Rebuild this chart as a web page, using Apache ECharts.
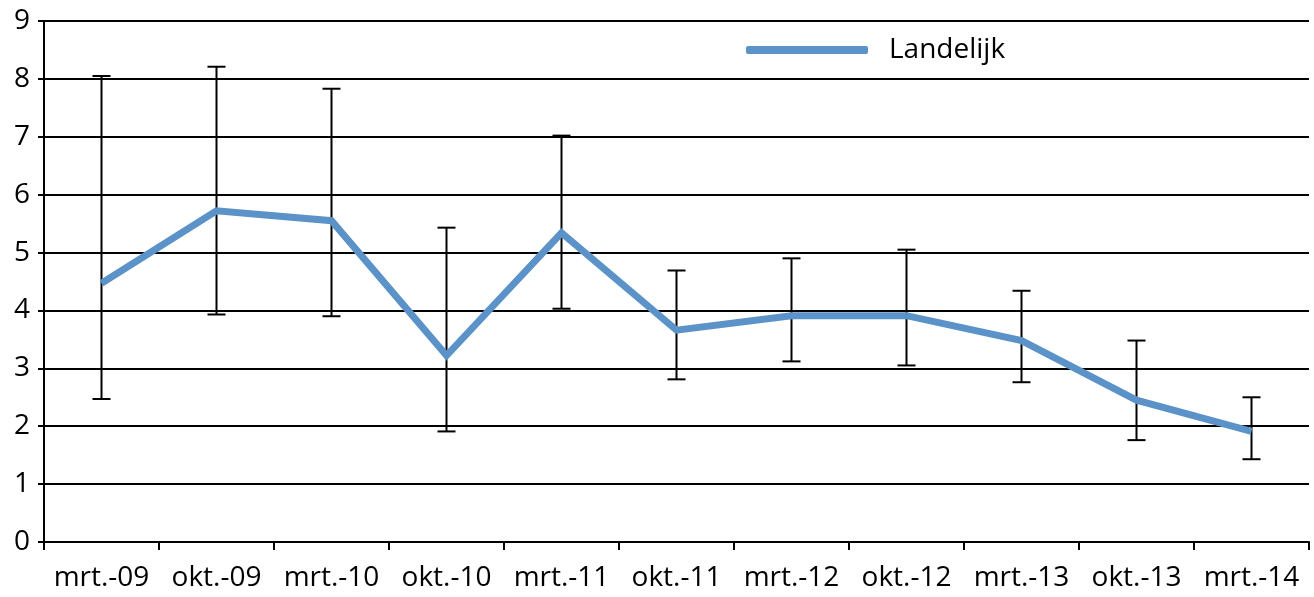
<!DOCTYPE html>
<html><head><meta charset="utf-8">
<script src="https://cdn.jsdelivr.net/npm/echarts@6/dist/echarts.min.js"></script>
<style>html,body{margin:0;padding:0;background:#fff}#c{width:1314px;height:597px}</style>
</head><body><div id="c"></div>
<script>
const categories = ['mrt.-09','okt.-09','mrt.-10','okt.-10','mrt.-11','okt.-11','mrt.-12','okt.-12','mrt.-13','okt.-13','mrt.-14'];
const landelijk = [4.47, 5.72, 5.55, 3.22, 5.34, 3.66, 3.91, 3.91, 3.48, 2.45, 1.91];
const lower = [2.47, 3.93, 3.90, 1.91, 4.03, 2.81, 3.12, 3.05, 2.76, 1.76, 1.43];
const upper = [8.05, 8.21, 7.83, 5.43, 7.02, 4.69, 4.90, 5.05, 4.34, 3.48, 2.50];
const yTicks = [0,1,2,3,4,5,6,7,8,9];

const font = '"Open Sans", "Noto Sans", sans-serif';
const chart = echarts.init(document.getElementById('c'));
chart.setOption({
  animation: false,
  grid: {left: 44, right: 5, top: 21, bottom: 55, containLabel: false},
  legend: {
    data: [{name: 'Landelijk', icon: 'roundRect'}],
    left: 741, top: 31, itemWidth: 122, itemHeight: 8, itemGap: 10,
    textStyle: {fontFamily: font, fontSize: 28, color: '#000', padding: [0,0,0,16]}
  },
  xAxis: {
    type: 'category', data: categories, boundaryGap: true,
    axisLine: {lineStyle: {color: '#000', width: 2}},
    axisTick: {show: true, length: 8, lineStyle: {color: '#000', width: 2}},
    axisLabel: {fontFamily: font, fontSize: 28, color: '#000', margin: 22, interval: 0}
  },
  yAxis: {
    type: 'value', min: 0, max: 9, interval: 1,
    axisLine: {show: true, lineStyle: {color: '#000', width: 2}},
    axisTick: {show: true, length: 6, lineStyle: {color: '#000', width: 2}},
    axisLabel: {fontFamily: font, fontSize: 28, color: '#000', margin: 14,
      formatter: v => yTicks.includes(v) ? String(v) : ''},
    splitLine: {show: true, lineStyle: {color: '#000', width: 2}}
  },
  series: [
    {
      type: 'custom', name: 'err', z: 2,
      data: categories.map((c, i) => [i, lower[i], upper[i]]),
      renderItem: function (params, api) {
        const x = api.value(0);
        const lo = api.coord([x, api.value(1)]);
        const hi = api.coord([x, api.value(2)]);
        const hw = 9;
        const st = {stroke: '#000', lineWidth: 2};
        return {type: 'group', children: [
          {type: 'line', shape: {x1: lo[0], y1: lo[1], x2: hi[0], y2: hi[1]}, style: st},
          {type: 'line', shape: {x1: lo[0]-hw, y1: lo[1], x2: lo[0]+hw, y2: lo[1]}, style: st},
          {type: 'line', shape: {x1: hi[0]-hw, y1: hi[1], x2: hi[0]+hw, y2: hi[1]}, style: st}
        ]};
      }
    },
    {
      type: 'line', name: 'Landelijk', data: landelijk, z: 5,
      symbol: 'none', lineStyle: {color: '#5b93c9', width: 7, join: 'miter'},
      itemStyle: {color: '#5b93c9'}
    }
  ]
});
</script></body></html>
